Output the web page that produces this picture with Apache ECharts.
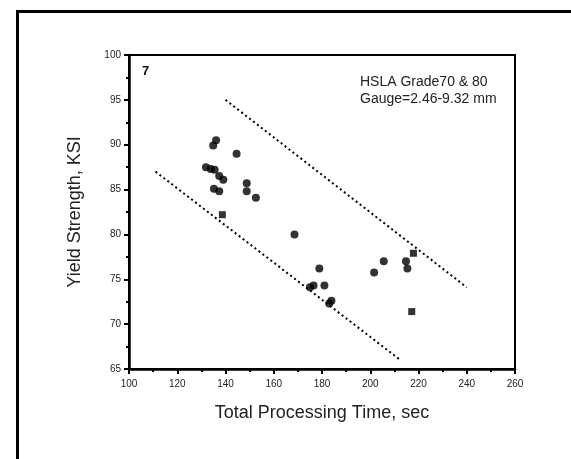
<!DOCTYPE html>
<html>
<head>
<meta charset="utf-8">
<script src="https://cdn.jsdelivr.net/npm/echarts@6/dist/echarts.min.js"></script>
<style>
  html, body { margin: 0; padding: 0; background: #fff; }
  #chart { width: 571px; height: 459px; }
</style>
</head>
<body>
<div id="chart"></div>
<script>
// round markers: [time, yield]
var roundPts = [
  [136.1, 90.5], [134.9, 89.9], [144.6, 89.0],
  [131.9, 87.5], [133.9, 87.3], [135.5, 87.2],
  [137.4, 86.5], [139.1, 86.1], [135.2, 85.1], [137.4, 84.8],
  [148.8, 85.7], [148.8, 84.8], [152.6, 84.1],
  [168.6, 80.0], [178.9, 76.2], [175.0, 74.1], [176.5, 74.3],
  [181.0, 74.3], [183.0, 72.3], [183.9, 72.6],
  [201.6, 75.75], [205.6, 77.0], [214.8, 77.0], [215.4, 76.2]
];
// square markers
var squarePts = [[138.7, 82.2], [217.9, 77.9], [217.2, 71.4]];
// dotted bounds
var upperBound = [[140, 95], [240, 74.1]];
var lowerBound = [[111, 87], [212, 66.1]];

var axisFont = { fontFamily: 'Liberation Sans, Arial', fontSize: 10, color: '#222' };
var titleFont = { fontFamily: 'Liberation Sans, Arial', fontSize: 18, color: '#222' };

var chart = echarts.init(document.getElementById('chart'));
chart.setOption({
  animation: false,
  backgroundColor: '#fff',
  grid: {
    left: 129, top: 55, right: 56, bottom: 90,
    show: true, borderColor: '#000', borderWidth: 2
  },
  xAxis: {
    type: 'value', min: 100, max: 260, interval: 20,
    name: 'Total Processing Time, sec',
    nameLocation: 'middle', nameGap: 35,
    nameTextStyle: titleFont,
    axisLine: { show: true, onZero: false, lineStyle: { color: '#000', width: 2.5 } },
    axisTick: { show: true, length: 5, lineStyle: { color: '#000', width: 2 } },
    minorTick: { show: true, splitNumber: 2, length: 3, lineStyle: { color: '#000', width: 2 } },
    axisLabel: Object.assign({ margin: 10 }, axisFont),
    splitLine: { show: false }
  },
  yAxis: {
    type: 'value', min: 65, max: 100, interval: 5,
    name: 'Yield Strength, KSI',
    nameLocation: 'middle', nameGap: 45,
    nameTextStyle: titleFont,
    axisLine: { show: true, onZero: false, lineStyle: { color: '#000', width: 2.5 } },
    axisTick: { show: true, length: 5, lineStyle: { color: '#000', width: 2 } },
    minorTick: { show: true, splitNumber: 2, length: 3, lineStyle: { color: '#000', width: 2 } },
    axisLabel: Object.assign({ margin: 8 }, axisFont),
    splitLine: { show: false }
  },
  series: [
    {
      type: 'line', data: upperBound, symbol: 'none',
      lineStyle: { color: '#000', width: 2, type: [2, 3] }
    },
    {
      type: 'line', data: lowerBound, symbol: 'none',
      lineStyle: { color: '#000', width: 2, type: [2, 3] }
    },
    {
      type: 'scatter', data: roundPts, symbol: 'circle', symbolSize: 8,
      itemStyle: { color: '#000' }
    },
    {
      type: 'scatter', data: squarePts, symbol: 'rect', symbolSize: 7,
      itemStyle: { color: '#000' }
    }
  ],
  graphic: [
    {
      type: 'rect', left: 15, top: 9, silent: true,
      shape: { x: 0, y: 0, width: 600, height: 500 },
      style: { fill: 'none', stroke: '#000', lineWidth: 3 }
    },
    {
      type: 'text', left: 142, top: 65,
      style: { text: '7', font: 'bold 13px Liberation Sans, Arial', fill: '#111' }
    },
    {
      type: 'text', left: 360, top: 74,
      style: {
        text: 'HSLA Grade70 & 80\nGauge=2.46-9.32 mm',
        font: '14px Liberation Sans, Arial', lineHeight: 16.5, fill: '#222'
      }
    }
  ]
});
</script>
</body>
</html>
